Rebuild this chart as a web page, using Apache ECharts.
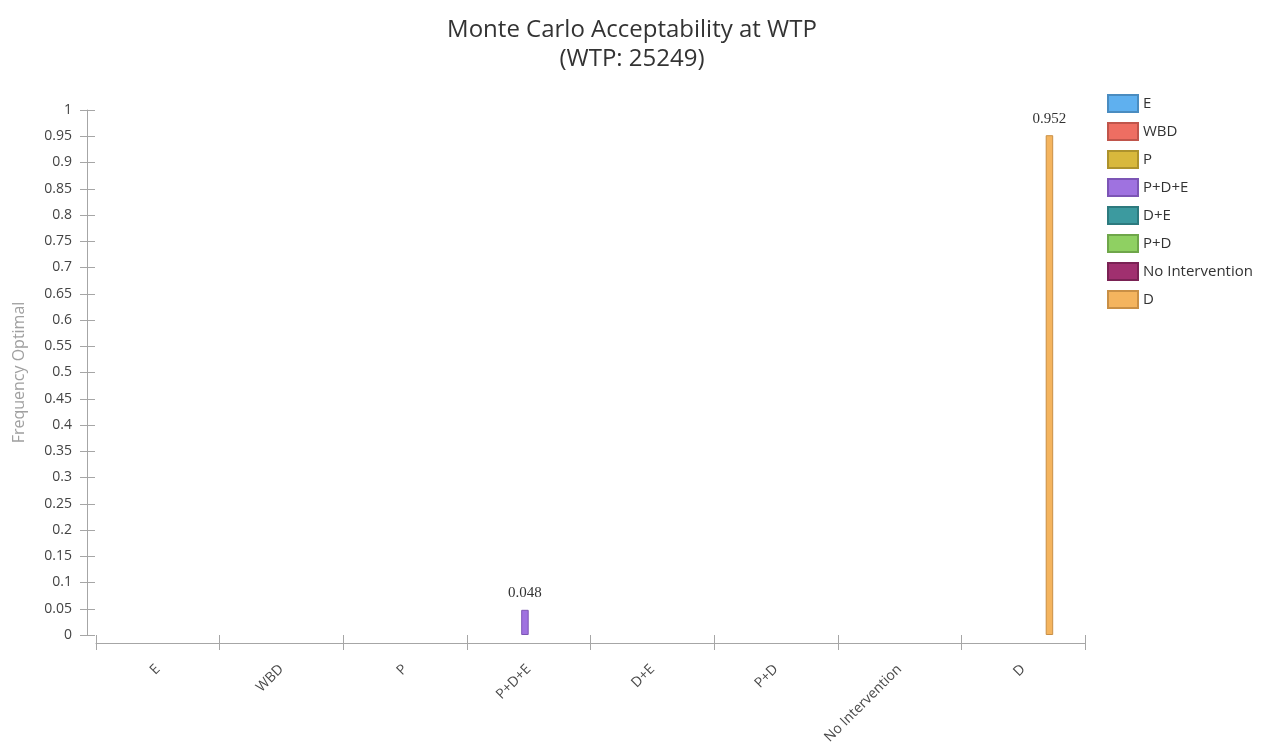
<!DOCTYPE html>
<html>
<head>
<meta charset="utf-8">
<script src="https://cdn.jsdelivr.net/npm/echarts@6/dist/echarts.min.js"></script>
<style>html,body{margin:0;padding:0;background:#fff}#c{width:1264px;height:753px}</style>
</head>
<body>
<div id="c"></div>
<script>
const categories = ['E', 'WBD', 'P', 'P+D+E', 'D+E', 'P+D', 'No Intervention', 'D'];
const frequencyOptimal = [0, 0, 0, 0.048, 0, 0, 0, 0.952];
const yTicks = { min: 0, max: 1, interval: 0.05 };
const titleText = 'Monte Carlo Acceptability at WTP\n(WTP: 25249)';
const yName = 'Frequency Optimal';

const fills = ['#5fb0ef', '#ee6e62', '#d8b83c', '#9f72e0', '#3c9a9f', '#8fd062', '#a0306f', '#f4b45e'];
const borders = ['#4a8cc0', '#c0554b', '#ad922c', '#7c55b5', '#2d7a7e', '#6fa64a', '#7a2254', '#c98f45'];

const axisGray = '#a6a6a6';
const font = '"Open Sans", "Noto Sans", sans-serif';

const series = categories.map((name, i) => ({
  name: name,
  type: 'bar',
  xAxisIndex: 0,
  yAxisIndex: 0,
  barWidth: 7.5,
  barGap: '0%',
  data: categories.map((c, j) => (j === i && frequencyOptimal[j] !== 0) ? frequencyOptimal[j] : '-'),
  itemStyle: { color: fills[i], borderColor: borders[i], borderWidth: 1 },
  label: {
    show: true, position: 'top', distance: 9,
    fontFamily: '"Liberation Serif", "DejaVu Serif", serif', fontSize: 15, color: '#333'
  }
}));

const grid = { left: 96, right: 179, top: 110, bottom: 118 };

const baseX = {
  type: 'category', data: categories, gridIndex: 0, offset: 8, position: 'bottom',
  axisLine: { show: true, onZero: false, lineStyle: { color: axisGray, width: 1 } },
  axisTick: { show: true, length: 7, lineStyle: { color: axisGray } },
  splitLine: { show: false }
};
const baseY = {
  type: 'value', min: yTicks.min, max: yTicks.max, interval: yTicks.interval, offset: 9, position: 'left',
  axisLine: { show: true, onZero: false, lineStyle: { color: axisGray, width: 1 } },
  axisTick: { show: true, length: 7, lineStyle: { color: axisGray } },
  splitLine: { show: false }
};

const option = {
  backgroundColor: '#fff',
  animation: false,
  title: {
    text: titleText, left: 'center', top: 11,
    textStyle: { fontFamily: font, fontSize: 24, fontWeight: 'normal', color: '#333', lineHeight: 29 }
  },
  legend: {
    orient: 'vertical', left: 1102, top: 89,
    itemWidth: 30, itemHeight: 17, itemGap: 9, icon: 'rect',
    textStyle: { fontFamily: font, fontSize: 15, color: '#333' },
    data: categories
  },
  grid: grid,
  xAxis: [
    Object.assign({}, baseX, {
      axisLabel: { show: true, rotate: 45, margin: 24, fontFamily: font, fontSize: 14, color: '#4a4a4a', interval: 0 }
    }),
    Object.assign({}, baseX, {
      axisLine: { show: false, onZero: false },
      axisTick: { show: true, inside: true, length: 8, lineStyle: { color: axisGray } },
      axisLabel: { show: false }
    })
  ],
  yAxis: [
    Object.assign({}, baseY, {
      name: yName, nameLocation: 'middle', nameGap: 60,
      nameTextStyle: { fontFamily: font, fontSize: 16, color: '#a0a0a0' },
      axisLabel: { show: true, margin: 15, fontFamily: font, fontSize: 14, color: '#444' }
    }),
    Object.assign({}, baseY, {
      axisLine: { show: false, onZero: false },
      axisTick: { show: true, inside: true, length: 8, lineStyle: { color: axisGray } },
      axisLabel: { show: false }
    })
  ],
  series: series
};

const chart = echarts.init(document.getElementById('c'), null, { renderer: 'canvas' });
chart.setOption(option);
</script>
</body>
</html>
